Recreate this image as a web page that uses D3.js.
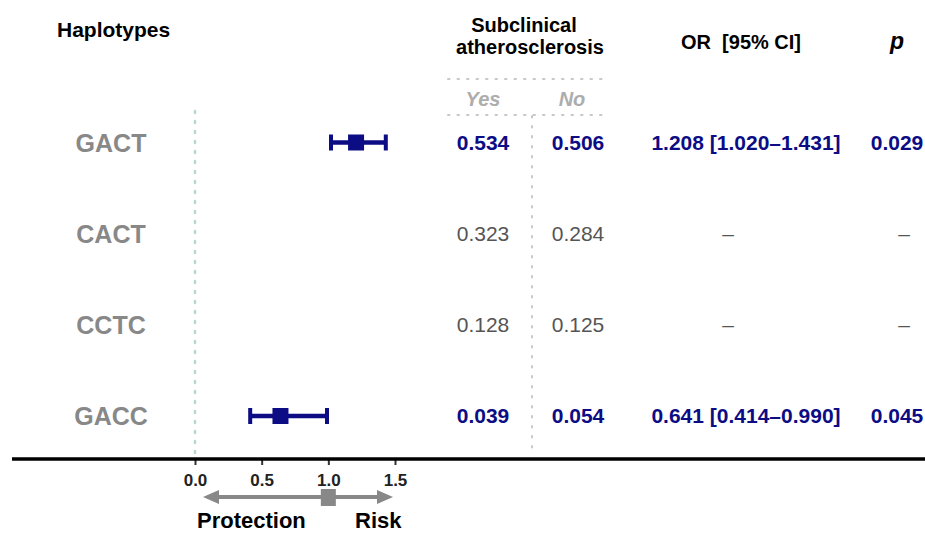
<!DOCTYPE html>
<html>
<head>
<meta charset="utf-8">
<script src="https://cdn.jsdelivr.net/npm/d3@7"></script>
<style>
	body { margin: 0; background: #fff; }
	svg { font-family: "Liberation Sans", Arial, sans-serif; display: block; }
</style>
</head>
<body>
<div id="container"></div>
<script>
	var w = 925
	var h = 533

	// data
	var haplotypes = ["GACT", "CACT", "CCTC", "GACC"]
	var freqYes = ["0.534", "0.323", "0.128", "0.039"]
	var freqNo = ["0.506", "0.284", "0.125", "0.054"]
	var orValue = [1.208, null, null, 0.641]
	var ciLow = [1.020, null, null, 0.414]
	var ciHigh = [1.431, null, null, 0.990]
	var pValue = ["0.029", null, null, "0.045"]
	var xTicks = [0.0, 0.5, 1.0, 1.5]

	var navy = "#0c0c85"
	var grey = "#888888"

	var rows = haplotypes.map((d, i) => ({
		name: d,
		yes: freqYes[i],
		no: freqNo[i],
		or: orValue[i],
		lo: ciLow[i],
		hi: ciHigh[i],
		p: pValue[i],
		sig: orValue[i] != null
	}))

	var svg = d3.select("#container")
		.append("svg")
		.attr("width", w)
		.attr("height", h)

	// scales
	var xScale = d3.scaleLinear()
		.domain([0, 1.5])
		.range([195, 395])

	var yScale = d3.scalePoint()
		.domain(haplotypes)
		.range([142.5, 416])

	// column positions
	var col = { label: 111, yes: 483, no: 578, or: 746, orDash: 728, p: 897, pDash: 904 }

	// headers
	svg.append("text")
		.attr("x", 57).attr("y", 37)
		.attr("font-size", 21).attr("font-weight", "bold")
		.text("Haplotypes")

	svg.append("text")
		.attr("x", 524).attr("y", 32)
		.attr("text-anchor", "middle")
		.attr("font-size", 20).attr("font-weight", "bold")
		.text("Subclinical")
	svg.append("text")
		.attr("x", 530).attr("y", 54)
		.attr("text-anchor", "middle")
		.attr("font-size", 20).attr("font-weight", "bold")
		.text("atherosclerosis")

	svg.append("text")
		.attr("x", 741).attr("y", 49)
		.attr("text-anchor", "middle")
		.attr("font-size", 20).attr("font-weight", "bold")
		.attr("xml:space", "preserve")
		.text("OR  [95% CI]")

	svg.append("text")
		.attr("x", 897).attr("y", 49)
		.attr("text-anchor", "middle")
		.attr("font-size", 23).attr("font-weight", "bold").attr("font-style", "italic")
		.text("p")

	// dotted guides in the table
	svg.append("line")
		.attr("x1", 448).attr("x2", 603).attr("y1", 79).attr("y2", 79)
		.attr("stroke", "#c8c8c8").attr("stroke-width", 2).attr("stroke-dasharray", "1.5 8")
		.attr("stroke-linecap", "round")
	svg.append("line")
		.attr("x1", 448).attr("x2", 606).attr("y1", 115).attr("y2", 115)
		.attr("stroke", "#c8c8c8").attr("stroke-width", 2).attr("stroke-dasharray", "1.5 8")
		.attr("stroke-linecap", "round")
	svg.append("line")
		.attr("x1", 532).attr("x2", 532).attr("y1", 116).attr("y2", 450)
		.attr("stroke", "#c8c8c8").attr("stroke-width", 2).attr("stroke-dasharray", "1.5 8.5")
		.attr("stroke-linecap", "round")

	svg.append("text")
		.attr("x", col.yes).attr("y", 106)
		.attr("text-anchor", "middle")
		.attr("font-size", 20).attr("font-weight", "bold").attr("font-style", "italic")
		.attr("fill", "#adadad")
		.text("Yes")
	svg.append("text")
		.attr("x", 572).attr("y", 106)
		.attr("text-anchor", "middle")
		.attr("font-size", 20).attr("font-weight", "bold").attr("font-style", "italic")
		.attr("fill", "#adadad")
		.text("No")

	// reference line at 0
	svg.append("line")
		.attr("x1", xScale(0)).attr("x2", xScale(0))
		.attr("y1", 111).attr("y2", 455)
		.attr("stroke", "#b5d9cf").attr("stroke-width", 2.5).attr("stroke-dasharray", "2 8")
		.attr("stroke-linecap", "round")

	// row labels
	svg.selectAll(".label")
		.data(rows)
		.enter()
		.append("text").attr("class", "label")
		.attr("x", col.label)
		.attr("y", d => yScale(d.name) + 9)
		.attr("text-anchor", "middle")
		.attr("font-size", 25).attr("font-weight", "bold")
		.attr("fill", grey)
		.text(d => d.name)

	// table values
	var cells = [
		{ key: "yes", x: col.yes },
		{ key: "no", x: col.no }
	]
	cells.forEach(c => {
		svg.selectAll(".v-" + c.key)
			.data(rows)
			.enter()
			.append("text").attr("class", "v-" + c.key)
			.attr("x", c.x)
			.attr("y", d => yScale(d.name) + 7)
			.attr("text-anchor", "middle")
			.attr("font-size", 21)
			.attr("font-weight", d => d.sig ? "bold" : "normal")
			.attr("fill", d => d.sig ? navy : "#555")
			.text(d => d[c.key])
	})

	svg.selectAll(".v-or")
		.data(rows)
		.enter()
		.append("text").attr("class", "v-or")
		.attr("x", d => d.sig ? col.or : col.orDash)
		.attr("y", d => yScale(d.name) + 7)
		.attr("text-anchor", "middle")
		.attr("font-size", 21)
		.attr("font-weight", d => d.sig ? "bold" : "normal")
		.attr("fill", d => d.sig ? navy : "#555")
		.text(d => d.sig ? d3.format(".3f")(d.or) + " [" + d3.format(".3f")(d.lo) + "\u2013" + d3.format(".3f")(d.hi) + "]" : "\u2013")

	svg.selectAll(".v-p")
		.data(rows)
		.enter()
		.append("text").attr("class", "v-p")
		.attr("x", d => d.sig ? col.p : col.pDash)
		.attr("y", d => yScale(d.name) + 7)
		.attr("text-anchor", "middle")
		.attr("font-size", 21)
		.attr("font-weight", d => d.sig ? "bold" : "normal")
		.attr("fill", d => d.sig ? navy : "#555")
		.text(d => d.sig ? d.p : "\u2013")

	// forest plot marks
	var sigRows = rows.filter(d => d.sig)

	svg.selectAll(".ci")
		.data(sigRows)
		.enter()
		.append("line").attr("class", "ci")
		.attr("x1", d => xScale(d.lo))
		.attr("x2", d => xScale(d.hi))
		.attr("y1", d => yScale(d.name))
		.attr("y2", d => yScale(d.name))
		.attr("stroke", navy).attr("stroke-width", 4.5)

	svg.selectAll(".capL")
		.data(sigRows)
		.enter()
		.append("line").attr("class", "capL")
		.attr("x1", d => xScale(d.lo)).attr("x2", d => xScale(d.lo))
		.attr("y1", d => yScale(d.name) - 8).attr("y2", d => yScale(d.name) + 8)
		.attr("stroke", navy).attr("stroke-width", 4)

	svg.selectAll(".capR")
		.data(sigRows)
		.enter()
		.append("line").attr("class", "capR")
		.attr("x1", d => xScale(d.hi)).attr("x2", d => xScale(d.hi))
		.attr("y1", d => yScale(d.name) - 8).attr("y2", d => yScale(d.name) + 8)
		.attr("stroke", navy).attr("stroke-width", 4)

	svg.selectAll(".pt")
		.data(sigRows)
		.enter()
		.append("rect").attr("class", "pt")
		.attr("x", d => xScale(d.or) - 8)
		.attr("y", d => yScale(d.name) - 8)
		.attr("width", 16).attr("height", 16)
		.attr("fill", navy)

	// x axis
	var xAxis = d3.axisBottom(xScale)
		.tickValues(xTicks)
		.tickFormat(d3.format(".1f"))
		.tickSize(6)
		.tickPadding(9)

	var axisG = svg.append("g")
		.attr("transform", "translate(0, 459)")
		.call(xAxis)
	axisG.select(".domain").remove()
	axisG.selectAll(".tick line")
		.attr("stroke", "#333").attr("stroke-width", 2)
	axisG.selectAll("text")
		.attr("font-size", 17).attr("font-weight", "bold")
		.attr("font-family", "Liberation Sans, Arial, sans-serif")
		.attr("fill", "#222")

	svg.append("line")
		.attr("x1", 12).attr("x2", w)
		.attr("y1", 459).attr("y2", 459)
		.attr("stroke", "#000").attr("stroke-width", 3.5)

	// protection / risk arrow
	var arrowY = 497
	svg.append("line")
		.attr("x1", xScale(0) + 20).attr("x2", xScale(1.5) - 14)
		.attr("y1", arrowY).attr("y2", arrowY)
		.attr("stroke", grey).attr("stroke-width", 4)
	svg.append("path")
		.attr("d", "M" + (xScale(0) + 8) + "," + arrowY + "l16,-7l0,14z")
		.attr("fill", grey)
	svg.append("path")
		.attr("d", "M" + (xScale(1.5) - 2) + "," + arrowY + "l-16,-7l0,14z")
		.attr("fill", grey)
	svg.append("rect")
		.attr("x", xScale(1) - 7.5).attr("y", arrowY - 8)
		.attr("width", 15).attr("height", 17)
		.attr("fill", grey)

	svg.append("text")
		.attr("x", 197).attr("y", 528)
		.attr("font-size", 22).attr("font-weight", "bold")
		.text("Protection")
	svg.append("text")
		.attr("x", 355).attr("y", 528)
		.attr("font-size", 22).attr("font-weight", "bold")
		.text("Risk")
</script>
</body>
</html>
